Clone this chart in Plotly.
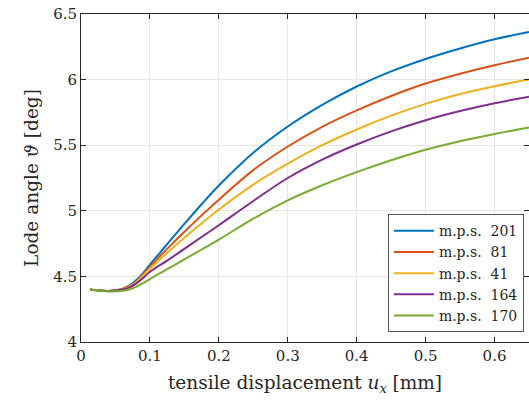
import plotly.graph_objects as go

x = [0.013, 0.03, 0.045, 0.06, 0.07, 0.08, 0.09, 0.1, 0.125, 0.15, 0.175, 0.2,
     0.25, 0.3, 0.35, 0.4, 0.45, 0.5, 0.55, 0.6, 0.65]

mps_201 = [4.40, 4.392, 4.39, 4.405, 4.43, 4.47, 4.525, 4.59, 4.745, 4.90, 5.05, 5.1925,
           5.4425, 5.6425, 5.8075, 5.9475, 6.0625, 6.1575, 6.2375, 6.3075, 6.3625]
mps_81 = [4.40, 4.392, 4.39, 4.405, 4.425, 4.46, 4.515, 4.575, 4.71, 4.84, 4.965, 5.085,
          5.31, 5.49, 5.64, 5.765, 5.875, 5.97, 6.045, 6.11, 6.167]
mps_41 = [4.40, 4.392, 4.39, 4.40, 4.42, 4.455, 4.505, 4.56, 4.68, 4.795, 4.905, 5.01,
          5.20, 5.36, 5.50, 5.62, 5.725, 5.815, 5.89, 5.95, 6.00]
mps_164 = [4.40, 4.392, 4.39, 4.40, 4.415, 4.445, 4.487, 4.535, 4.62, 4.71, 4.80, 4.89,
           5.075, 5.25, 5.39, 5.505, 5.605, 5.69, 5.76, 5.82, 5.87]
mps_170 = [4.40, 4.39, 4.385, 4.39, 4.40, 4.42, 4.448, 4.48, 4.555, 4.63, 4.705, 4.78,
           4.94, 5.08, 5.195, 5.295, 5.385, 5.465, 5.53, 5.585, 5.635]

series = [
    ("m.p.s.\u00a0 201", mps_201, "#0072BD"),
    ("m.p.s.\u00a0 81", mps_81, "#D95319"),
    ("m.p.s.\u00a0 41", mps_41, "#EDB120"),
    ("m.p.s.\u00a0 164", mps_164, "#7E2F8E"),
    ("m.p.s.\u00a0 170", mps_170, "#77AC30"),
]

x_ticks = [0, 0.1, 0.2, 0.3, 0.4, 0.5, 0.6]
x_tick_labels = ["0", "0.1", "0.2", "0.3", "0.4", "0.5", "0.6"]
y_ticks = [4, 4.5, 5, 5.5, 6, 6.5]
y_tick_labels = ["4", "4.5", "5", "5.5", "6", "6.5"]

FONT = "DejaVu Serif"
TXT = "#262626"

fig = go.Figure()
for name, ys, col in series:
    fig.add_trace(go.Scatter(x=x, y=ys, name=name, mode="lines",
                             line=dict(color=col, width=2, shape="spline", smoothing=1.0)))

axis_common = dict(
    showline=True, linecolor=TXT, linewidth=1, mirror="ticks",
    ticks="inside", ticklen=5, tickcolor=TXT,
    showgrid=True, gridcolor="#e6e6e6", gridwidth=1,
    zeroline=False, tickfont=dict(family=FONT, size=15, color=TXT),
)

fig.update_layout(
    width=529, height=405,
    margin=dict(l=81, r=0, t=14, b=63),
    paper_bgcolor="white", plot_bgcolor="white",
    font=dict(family=FONT, color=TXT),
    xaxis=dict(range=[0, 0.65], tickvals=x_ticks, ticktext=x_tick_labels,
               title=dict(text="tensile displacement <i>u</i><sub><i>x</i></sub> [mm]",
                          font=dict(family=FONT, size=18.5, color=TXT), standoff=12),
               **axis_common),
    yaxis=dict(range=[4, 6.5], tickvals=y_ticks, ticktext=y_tick_labels,
               title=dict(text="Lode angle <i>ϑ</i> [deg]",
                          font=dict(family=FONT, size=18.5, color=TXT), standoff=9),
               **axis_common),
    legend=dict(x=0.685, y=0.03, xanchor="left", yanchor="bottom",
                bgcolor="white", bordercolor="#555555", borderwidth=1,
                font=dict(family=FONT, size=14, color=TXT),
                tracegroupgap=0, itemwidth=40),
    showlegend=True,
)

fig.write_html("out.html")
